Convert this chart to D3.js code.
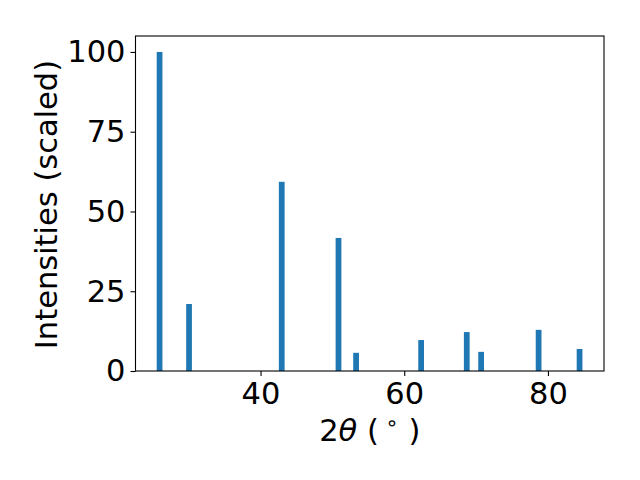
<!DOCTYPE html>
<html><head><meta charset="utf-8">
<script src="https://cdn.jsdelivr.net/npm/d3@7"></script>
<style>body{margin:0;background:#fff}svg{display:block}text{font-family:"DejaVu Sans",sans-serif}</style>
</head><body>
<svg id="c" width="640" height="480"></svg>
<script>
const twoTheta = [25.95, 30.05, 42.95, 50.85, 53.3, 62.35, 68.7, 70.7, 78.7, 84.4];
const intensities = [100, 21.0, 59.3, 41.7, 5.7, 9.7, 12.2, 6.0, 12.9, 6.9];
const xTicks = [40, 60, 80];
const yTicks = [0, 25, 50, 75, 100];
const barWidth = 0.8;

const FS = 30.5;
const svg = d3.select("#c");
const L = 135.5, R = 604, T = 36, B = 371;
const x = d3.scaleLinear().domain([22.6, 87.8]).range([L, R]);
const y = d3.scaleLinear().domain([0, 105]).range([B, T]);

svg.append("g").selectAll("rect").data(twoTheta).join("rect")
  .attr("x", (d) => x(d - barWidth / 2))
  .attr("width", (d) => x(d + barWidth / 2) - x(d - barWidth / 2))
  .attr("y", (d, i) => y(intensities[i]))
  .attr("height", (d, i) => y(0) - y(intensities[i]))
  .attr("fill", "#1f77b4");

const xa = svg.append("g").attr("transform", `translate(0,${B})`)
  .call(d3.axisBottom(x).tickValues(xTicks).tickSize(5).tickPadding(5).tickFormat(d3.format("d")));
const ya = svg.append("g").attr("transform", `translate(${L},0)`)
  .call(d3.axisLeft(y).tickValues(yTicks).tickSize(5).tickPadding(5).tickFormat(d3.format("d")));
[xa, ya].forEach(g => {
  g.attr("font-size", FS).attr("font-family", '"DejaVu Sans", sans-serif');
  g.select(".domain").remove();
  g.selectAll(".tick line").attr("stroke", "#000").attr("stroke-width", 1.1);
  g.selectAll(".tick text").attr("font-size", FS).attr("fill", "#000");
});
ya.selectAll(".tick text").attr("dy", "0.32em");
xa.selectAll(".tick text").attr("dy", "23px");

svg.append("rect").attr("x", L).attr("y", T).attr("width", R - L).attr("height", B - T)
  .attr("fill", "none").attr("stroke", "#000").attr("stroke-width", 1.1);

const xl = svg.append("text").attr("x", (L + R) / 2).attr("y", 441)
  .attr("text-anchor", "middle").attr("font-size", FS).attr("fill", "#000");
xl.append("tspan").text("2");
xl.append("tspan").attr("font-style", "italic").text("θ");
xl.append("tspan").text(" (");
xl.append("tspan").attr("font-size", 21).attr("dy", -11).text(" ∘");
xl.append("tspan").attr("dy", 11).text(" )");

svg.append("text").attr("transform", `translate(57,${(T + B) / 2 + 1}) rotate(-90)`)
  .attr("text-anchor", "middle").attr("font-size", FS).attr("fill", "#000")
  .text("Intensities (scaled)");
</script>
</body></html>
